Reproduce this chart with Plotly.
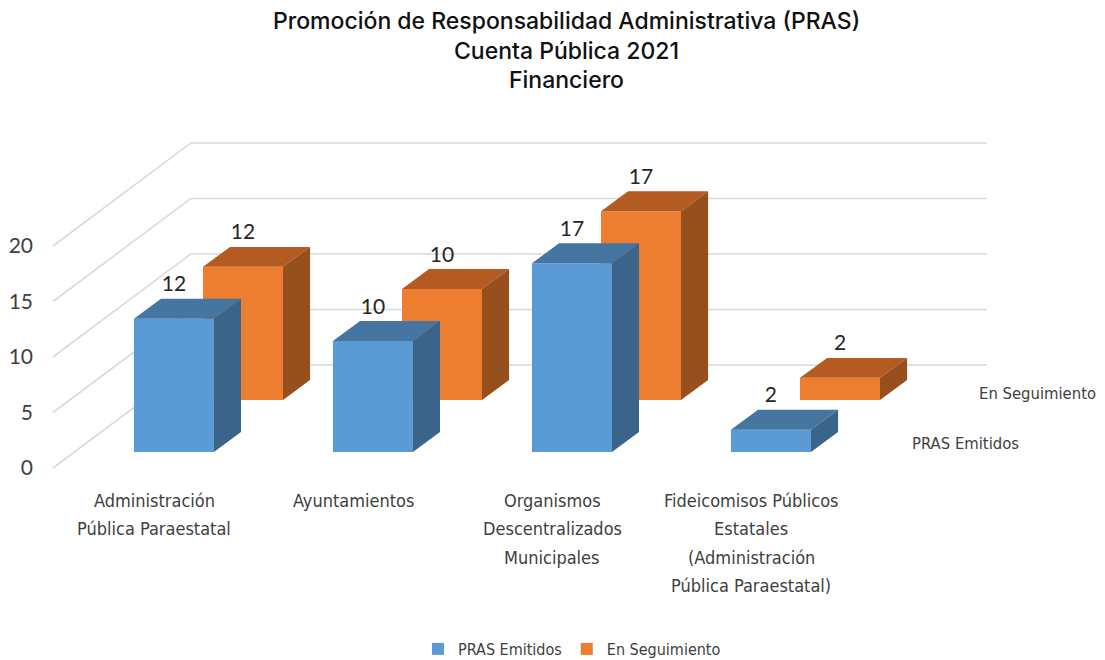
import plotly.graph_objects as go

# ---- data ----
categories = [
    ["Administración", "Pública Paraestatal"],
    ["Ayuntamientos"],
    ["Organismos", "Descentralizados", "Municipales"],
    ["Fideicomisos Públicos", "Estatales", "(Administración", "Pública Paraestatal)"],
]
series_names = ["PRAS Emitidos", "En Seguimiento"]
pras_emitidos = [12, 10, 17, 2]
en_seguimiento = [12, 10, 17, 2]
y_ticks = [0, 5, 10, 15, 20]

title_lines = ["Promoción de Responsabilidad Administrativa (PRAS)",
               "Cuenta Pública 2021", "Financiero"]

# ---- style / projection constants (axis units) ----
BAR_W = 0.402          # bar width in category units
DDX, DDY = 0.136, 1.8  # bar depth projection
ROW_DX, ROW_DY = 0.347, 4.68   # offset between series rows
BASE0 = 1.44           # front row base above floor front edge
FLOOR_XL, FLOOR_DX, FLOOR_DY, FLOOR_XR = -0.608, 0.693, 9.28, 4.085

# plot area in pixels (for placing text outside the axes)
PLOT_LEFT, PLOT_RIGHT = 40, 1085
PLOT_TOP, PLOT_BOTTOM = 110, 478
PLOT_H = PLOT_BOTTOM - PLOT_TOP
PLOT_W = PLOT_RIGHT - PLOT_LEFT


def paper_y(py):
    return (PLOT_BOTTOM - py) / PLOT_H


def paper_x(px):
    return (px - PLOT_LEFT) / PLOT_W


COLORS = {
    "PRAS Emitidos": ("#5B9BD5", "#4575A1", "#3A6489"),
    "En Seguimiento": ("#ED7D31", "#B35B21", "#974F1E"),
}

cond_font = "DejaVu Sans Condensed, Liberation Sans, sans-serif"
num_font = "Lato, Open Sans, sans-serif"
txt_color = "#404040"

fig = go.Figure()

# gridlines on floor/back wall
shapes = []
for v in y_ticks:
    path = (f"M {FLOOR_XL} {v} L {FLOOR_XL + FLOOR_DX} {v + FLOOR_DY} "
            f"L {FLOOR_XR} {v + FLOOR_DY}")
    shapes.append(dict(type="path", path=path, xref="x", yref="y", layer="below",
                       line=dict(color="#D9D9D9", width=1.6)))

xs = list(range(len(categories)))
rows = [("En Seguimiento", en_seguimiento, 1), ("PRAS Emitidos", pras_emitidos, 0)]

# front faces (bars)
for name, vals, r in rows:
    front, top, side = COLORS[name]
    x = [c + r * ROW_DX for c in xs]
    base = BASE0 + r * ROW_DY
    fig.add_trace(go.Bar(
        x=x, y=vals, base=[base] * len(vals), width=BAR_W, name=name,
        marker=dict(color=front, line=dict(width=0)), showlegend=True,
        legendrank=1 if r == 0 else 2, hoverinfo="skip",
    ))

# top and side faces + data labels
for name, vals, r in rows:
    front, topc, sidec = COLORS[name]
    base = BASE0 + r * ROW_DY
    tx, ty, sx, sy = [], [], [], []
    for c, v in zip(xs, vals):
        x0 = c + r * ROW_DX - BAR_W / 2
        x1 = c + r * ROW_DX + BAR_W / 2
        h = base + v
        tx += [x0, x1, x1 + DDX, x0 + DDX, x0, None]
        ty += [h, h, h + DDY, h + DDY, h, None]
        sx += [x1, x1 + DDX, x1 + DDX, x1, x1, None]
        sy += [base, base + DDY, h + DDY, h, base, None]
    fig.add_trace(go.Scatter(x=tx, y=ty, fill="toself", fillcolor=topc, mode="lines",
                             line=dict(width=0, color=topc), showlegend=False,
                             hoverinfo="skip"))
    fig.add_trace(go.Scatter(x=sx, y=sy, fill="toself", fillcolor=sidec, mode="lines",
                             line=dict(width=0, color=sidec), showlegend=False,
                             hoverinfo="skip"))
    fig.add_trace(go.Scatter(
        x=[c + r * ROW_DX for c in xs],
        y=[base + v + DDY + 1.15 for v in vals],
        text=[str(v) for v in vals], mode="text", textposition="middle center",
        textfont=dict(family=num_font, size=21, color="#262626"),
        showlegend=False, hoverinfo="skip", cliponaxis=False))

annotations = []
# series (depth axis) labels
annotations.append(dict(x=4.035, y=BASE0 + ROW_DY + 0.62, xref="x", yref="y",
                        text=series_names[1], showarrow=False, xanchor="left",
                        yanchor="middle",
                        font=dict(family=cond_font, size=16.5, color=txt_color)))
annotations.append(dict(x=3.700, y=BASE0 + 0.81, xref="x", yref="y",
                        text=series_names[0], showarrow=False, xanchor="left",
                        yanchor="middle",
                        font=dict(family=cond_font, size=16.5, color=txt_color)))

# category labels (one line each, Excel-like spacing)
for c, lines in zip(xs, categories):
    for j, line in enumerate(lines):
        annotations.append(dict(
            x=c - 0.1, y=paper_y(500.5 + 28.3 * j), xref="x", yref="paper",
            text=line, showarrow=False, xanchor="center", yanchor="middle",
            font=dict(family=cond_font, size=18, color=txt_color)))

# title lines
for j, line in enumerate(title_lines):
    annotations.append(dict(
        x=paper_x(566), y=paper_y(21 + 29.5 * j), xref="paper", yref="paper",
        text=line, showarrow=False, xanchor="center", yanchor="middle",
        font=dict(family="Inter, Roboto, sans-serif", size=23, color="#111111",
                  weight=500)))

fig.update_layout(
    width=1105, height=660,
    margin=dict(l=PLOT_LEFT, r=1105 - PLOT_RIGHT, t=PLOT_TOP, b=660 - PLOT_BOTTOM,
                autoexpand=False),
    paper_bgcolor="white", plot_bgcolor="white",
    barmode="overlay",
    xaxis=dict(range=[-0.673, 4.578], showticklabels=False,
               showgrid=False, zeroline=False, showline=False, ticks="",
               fixedrange=True),
    yaxis=dict(range=[-0.9, 32.25], tickvals=y_ticks, showgrid=False, zeroline=False,
               showline=False, ticks="", ticklabelstandoff=6,
               tickfont=dict(family=num_font, size=21, color=txt_color), fixedrange=True),
    legend=dict(orientation="h", x=paper_x(572), xanchor="center", y=paper_y(649),
                yanchor="middle",
                font=dict(family=cond_font, size=16, color=txt_color),
                traceorder="normal"),
    shapes=shapes, annotations=annotations,
    showlegend=True,
)

fig.write_html("out.html",
               config={"displayModeBar": False},
               post_script="document.body.style.margin='0';"
                           "document.body.style.padding='0';")
